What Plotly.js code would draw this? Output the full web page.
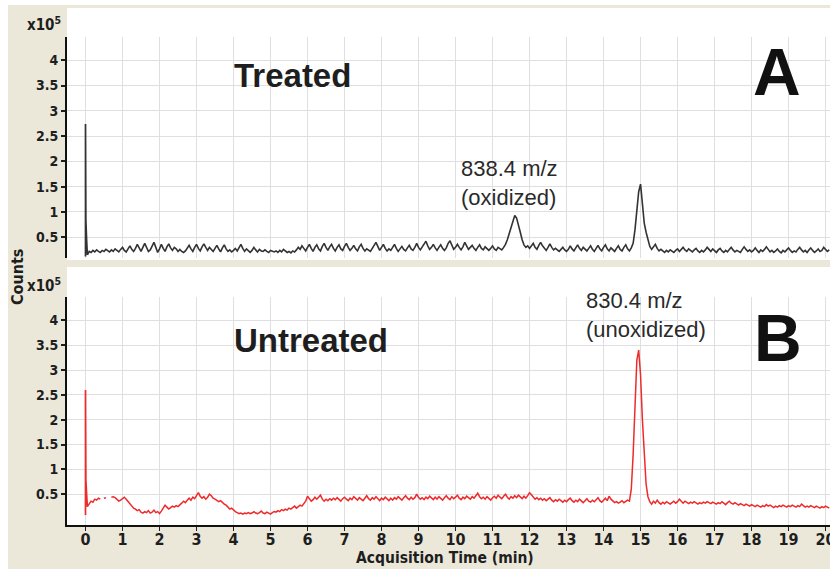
<!DOCTYPE html>
<html>
<head>
<meta charset="utf-8">
<script src="https://cdn.plot.ly/plotly-3.0.1.min.js"></script>
<style>html,body{margin:0;padding:0;background:#fff;}#chart{width:830px;height:569px;}</style>
</head>
<body>
<div id="chart"></div>
<script>
// Values in units of 10^5 counts; main traces sampled every 0.05 min starting at 0.05 min
const sampleStart = 0.05;
const sampleStep = 0.05;

const treatedSpikeTime = [0, 0, 0.01, 0.03, 0.05];
const treatedSpikeCounts = [0.12, 2.74, 0.83, 0.45, 0.15];

const untreatedSpikeTime = [0, 0, 0.01, 0.03, 0.05];
const untreatedSpikeCounts = [0.08, 2.60, 0.78, 0.50, 0.25];

const treatedCounts = [
  0.15,0.22,0.20,0.24,0.21,0.25,0.22,0.20,0.24,0.22,0.26,0.23,0.21,0.25,0.22,0.27,0.24,0.21,0.26,0.30,
  0.24,0.21,0.27,0.33,0.26,0.22,0.28,0.36,0.29,0.22,0.30,0.38,0.30,0.22,0.25,0.33,0.40,0.30,0.20,0.27,
  0.36,0.28,0.22,0.31,0.37,0.29,0.24,0.30,0.27,0.22,0.26,0.22,0.20,0.23,0.28,0.34,0.27,0.22,0.30,0.36,
  0.28,0.23,0.31,0.37,0.30,0.24,0.30,0.26,0.22,0.28,0.34,0.27,0.21,0.29,0.35,0.27,0.22,0.25,0.21,0.24,
  0.28,0.23,0.30,0.36,0.28,0.22,0.27,0.23,0.20,0.24,0.30,0.25,0.21,0.26,0.23,0.22,0.25,0.22,0.20,0.24,
  0.22,0.21,0.23,0.20,0.24,0.21,0.26,0.23,0.20,0.22,0.19,0.23,0.21,0.25,0.30,0.26,0.33,0.28,0.23,0.30,
  0.36,0.28,0.22,0.30,0.35,0.27,0.23,0.32,0.38,0.30,0.24,0.31,0.36,0.28,0.23,0.30,0.35,0.27,0.24,0.32,
  0.38,0.30,0.24,0.28,0.34,0.27,0.23,0.31,0.36,0.28,0.23,0.27,0.24,0.22,0.28,0.35,0.40,0.32,0.24,0.30,
  0.36,0.28,0.23,0.27,0.24,0.30,0.36,0.28,0.22,0.27,0.32,0.26,0.23,0.29,0.34,0.27,0.24,0.30,0.38,0.30,
  0.25,0.31,0.37,0.42,0.33,0.26,0.30,0.36,0.29,0.24,0.30,0.35,0.28,0.24,0.29,0.38,0.43,0.33,0.26,0.30,
  0.36,0.30,0.25,0.31,0.40,0.33,0.26,0.30,0.34,0.28,0.24,0.30,0.35,0.28,0.25,0.31,0.27,0.24,0.28,0.33,
  0.27,0.24,0.30,0.27,0.25,0.30,0.36,0.45,0.58,0.72,0.84,0.93,0.88,0.76,0.60,0.45,0.35,0.30,0.33,0.28,
  0.32,0.38,0.30,0.26,0.34,0.40,0.33,0.28,0.24,0.30,0.37,0.30,0.25,0.28,0.24,0.22,0.26,0.30,0.25,0.22,
  0.26,0.33,0.27,0.23,0.29,0.35,0.28,0.24,0.30,0.27,0.23,0.28,0.33,0.26,0.22,0.28,0.34,0.27,0.23,0.30,
  0.35,0.27,0.23,0.29,0.25,0.22,0.28,0.33,0.26,0.23,0.30,0.35,0.27,0.23,0.29,0.38,0.65,1.05,1.40,1.55,
  1.20,0.78,0.60,0.45,0.32,0.26,0.30,0.36,0.28,0.23,0.26,0.22,0.20,0.24,0.21,0.25,0.22,0.20,0.24,0.27,
  0.22,0.26,0.30,0.25,0.22,0.27,0.24,0.21,0.25,0.28,0.23,0.20,0.24,0.21,0.25,0.30,0.26,0.22,0.27,0.23,
  0.20,0.25,0.28,0.23,0.20,0.24,0.21,0.26,0.30,0.25,0.21,0.24,0.22,0.20,0.26,0.31,0.26,0.22,0.25,0.21,
  0.24,0.29,0.24,0.20,0.25,0.22,0.26,0.31,0.26,0.21,0.24,0.20,0.23,0.27,0.22,0.19,0.24,0.21,0.25,0.29,
  0.24,0.20,0.23,0.21,0.26,0.30,0.25,0.21,0.24,0.20,0.25,0.29,0.24,0.20,0.23,0.27,0.22,0.24,0.30,0.26,
  0.22,0.25
];

const untreatedCounts = [
  0.25,0.30,0.36,0.34,0.40,0.38,0.42,0.40,null,0.42,0.43,null,null,0.44,0.45,0.43,0.40,0.36,0.38,0.42,
  0.44,0.40,0.35,0.30,0.26,0.22,0.20,0.17,0.19,0.14,0.12,0.15,0.13,0.17,0.12,0.14,0.18,0.13,0.15,0.11,
  0.16,0.22,0.28,0.24,0.20,0.23,0.26,0.24,0.27,0.25,0.28,0.32,0.36,0.33,0.38,0.42,0.38,0.44,0.41,0.47,
  0.53,0.46,0.42,0.45,0.40,0.44,0.50,0.47,0.42,0.40,0.37,0.35,0.37,0.33,0.30,0.28,0.24,0.20,0.22,0.18,
  0.15,0.13,0.11,0.12,0.10,0.12,0.11,0.13,0.11,0.12,0.15,0.12,0.11,0.13,0.16,0.12,0.11,0.14,0.12,0.10,
  0.13,0.15,0.14,0.17,0.15,0.19,0.17,0.20,0.18,0.22,0.20,0.23,0.26,0.22,0.25,0.28,0.26,0.30,0.36,0.46,
  0.42,0.36,0.39,0.44,0.40,0.45,0.48,0.40,0.36,0.40,0.37,0.41,0.38,0.42,0.39,0.43,0.40,0.36,0.41,0.44,
  0.40,0.37,0.42,0.39,0.45,0.41,0.38,0.43,0.40,0.37,0.42,0.47,0.41,0.38,0.43,0.40,0.45,0.40,0.37,0.42,
  0.39,0.44,0.40,0.37,0.42,0.38,0.43,0.40,0.45,0.41,0.38,0.43,0.47,0.42,0.39,0.44,0.40,0.43,0.50,0.44,
  0.40,0.43,0.39,0.44,0.41,0.46,0.42,0.39,0.44,0.40,0.45,0.42,0.38,0.43,0.47,0.42,0.39,0.45,0.41,0.44,
  0.48,0.42,0.39,0.44,0.41,0.46,0.43,0.40,0.45,0.42,0.47,0.52,0.45,0.41,0.44,0.40,0.45,0.42,0.38,0.43,
  0.46,0.42,0.48,0.44,0.41,0.46,0.50,0.44,0.40,0.45,0.42,0.47,0.43,0.48,0.44,0.41,0.46,0.42,0.47,0.53,
  0.49,0.44,0.40,0.43,0.39,0.42,0.38,0.41,0.37,0.40,0.43,0.38,0.35,0.39,0.36,0.40,0.37,0.34,0.38,0.35,
  0.39,0.42,0.37,0.34,0.38,0.35,0.40,0.36,0.33,0.37,0.41,0.36,0.34,0.38,0.35,0.39,0.43,0.37,0.34,0.38,
  0.42,0.37,0.46,0.40,0.36,0.33,0.35,0.32,0.34,0.37,0.33,0.35,0.38,0.36,0.60,1.30,2.30,3.20,3.40,2.90,
  2.00,1.20,0.70,0.45,0.35,0.30,0.36,0.32,0.38,0.33,0.30,0.34,0.31,0.35,0.32,0.30,0.33,0.36,0.32,0.35,
  0.40,0.35,0.32,0.36,0.33,0.31,0.34,0.32,0.35,0.33,0.30,0.33,0.31,0.34,0.32,0.35,0.33,0.31,0.34,0.32,
  0.30,0.33,0.31,0.35,0.32,0.29,0.33,0.36,0.32,0.30,0.33,0.30,0.28,0.31,0.29,0.27,0.30,0.28,0.26,0.29,
  0.27,0.25,0.28,0.26,0.24,0.27,0.25,0.29,0.26,0.28,0.25,0.23,0.26,0.24,0.27,0.25,0.28,0.26,0.24,0.27,
  0.25,0.28,0.26,0.24,0.27,0.25,0.30,0.27,0.24,0.26,0.24,0.27,0.25,0.23,0.26,0.24,0.22,0.25,0.23,0.26,
  0.24,0.22
];

const xTickVals = [0,1,2,3,4,5,6,7,8,9,10,11,12,13,14,15,16,17,18,19,20];
const xTickText = ['0','1','2','3','4','5','6','7','8','9','10','11','12','13','14','15','16','17','18','19','20'];
const yTickVals = [0.5,1,1.5,2,2.5,3,3.5,4];
const yTickText = ['0.5','1','1.5','2','2.5','3','3.5','4'];

const W = 830, H = 569;
const px = x => x / W;
const py = y => 1 - y / H;
const bold = t => '<b>' + t + '</b>';

const cond = "'DejaVu Sans Condensed', 'Liberation Sans Narrow', 'Liberation Sans', sans-serif";
const sans = "'Liberation Sans', Arial, Helvetica, sans-serif";
const beige = '#ebe8d9';
const gridCol = '#dfdfe3';
const blackLine = '#333333';
const redLine = '#ee2a2a';
const ink = '#1e1e1e';

const traces = [
  {x: treatedSpikeTime, y: treatedSpikeCounts, xaxis: 'x', yaxis: 'y', mode: 'lines',
   line: {color: blackLine, width: 1.7}, hoverinfo: 'skip'},
  {x0: sampleStart, dx: sampleStep, y: treatedCounts, xaxis: 'x', yaxis: 'y', mode: 'lines',
   line: {color: blackLine, width: 1.6}},
  {x: untreatedSpikeTime, y: untreatedSpikeCounts, xaxis: 'x2', yaxis: 'y2', mode: 'lines',
   line: {color: redLine, width: 1.7}, hoverinfo: 'skip'},
  {x0: sampleStart, dx: sampleStep, y: untreatedCounts, xaxis: 'x2', yaxis: 'y2', mode: 'lines',
   connectgaps: false, line: {color: redLine, width: 1.5}}
];

const yTickFont = {family: cond, size: 14, color: ink};
const xDomain = [px(67), 1];

const yCommon = {
  tickmode: 'array', tickvals: yTickVals, ticktext: yTickText.map(bold),
  ticks: 'outside', ticklen: 4, tickwidth: 2, tickcolor: ink, tickfont: yTickFont,
  showgrid: true, gridcolor: gridCol, gridwidth: 1, zeroline: false,
  showline: true, linecolor: '#111', linewidth: 2
};

const layout = {
  width: W, height: H,
  margin: {l: 0, r: 0, t: 0, b: 0},
  paper_bgcolor: '#ffffff',
  plot_bgcolor: 'rgba(0,0,0,0)',
  showlegend: false,
  xaxis: {domain: xDomain, anchor: 'y', range: [-0.5, 20.12], tickmode: 'array', tickvals: xTickVals,
          showticklabels: false, ticks: '', showgrid: true, gridcolor: gridCol, gridwidth: 1,
          zeroline: false, showline: false},
  yaxis: Object.assign({domain: [py(258), py(37)], anchor: 'x', range: [0.09, 4.46]}, yCommon),
  xaxis2: {domain: xDomain, anchor: 'y2', range: [-0.5, 20.12], tickmode: 'array', tickvals: xTickVals,
           ticktext: xTickText.map(bold), ticks: 'outside', ticklen: 4, tickwidth: 1.5, tickcolor: ink,
           tickfont: {family: cond, size: 16, color: ink}, ticklabeloverflow: 'allow',
           ticklabelstandoff: -5,
           showgrid: true, gridcolor: gridCol, gridwidth: 1, zeroline: false,
           showline: true, linecolor: '#111', linewidth: 2},
  yaxis2: Object.assign({domain: [py(525), py(297)], anchor: 'x2', range: [-0.12, 4.47]}, yCommon),
  shapes: [
    {type: 'rect', xref: 'paper', yref: 'paper', x0: px(8), x1: 1, y0: 0, y1: py(5),
     fillcolor: beige, line: {width: 0}, layer: 'below'},
    {type: 'rect', xref: 'paper', yref: 'paper', x0: px(67), x1: 1, y0: py(260), y1: py(8),
     fillcolor: '#ffffff', line: {width: 0}, layer: 'below'},
    {type: 'rect', xref: 'paper', yref: 'paper', x0: px(67), x1: 1, y0: py(525), y1: py(267),
     fillcolor: '#ffffff', line: {width: 0}, layer: 'below'}
  ],
  annotations: [
    {xref: 'paper', yref: 'paper', x: px(232), y: py(75), xanchor: 'left', yanchor: 'middle',
     text: bold('Treated'), showarrow: false, font: {family: sans, size: 33, color: ink}},
    {xref: 'paper', yref: 'paper', x: px(232), y: py(340), xanchor: 'left', yanchor: 'middle',
     text: bold('Untreated'), showarrow: false, font: {family: sans, size: 33, color: ink}},
    {xref: 'paper', yref: 'paper', x: px(777), y: py(72), xanchor: 'center', yanchor: 'middle',
     text: bold('A'), showarrow: false, font: {family: sans, size: 66, color: '#111'}},
    {xref: 'paper', yref: 'paper', x: px(778), y: py(338), xanchor: 'center', yanchor: 'middle',
     text: bold('B'), showarrow: false, font: {family: sans, size: 66, color: '#111'}},
    {xref: 'paper', yref: 'paper', x: px(459), y: py(183), xanchor: 'left', yanchor: 'middle', align: 'left',
     text: '838.4 m/z<br>(oxidized)', showarrow: false, font: {family: sans, size: 22, color: '#2a2a2a'}},
    {xref: 'paper', yref: 'paper', x: px(584), y: py(315), xanchor: 'left', yanchor: 'middle', align: 'left',
     text: '830.4 m/z<br>(unoxidized)', showarrow: false, font: {family: sans, size: 22, color: '#2a2a2a'}},
    {xref: 'paper', yref: 'paper', x: px(63), y: py(24), xanchor: 'right', yanchor: 'middle',
     text: bold('x10<sup>5</sup>'), showarrow: false, font: {family: cond, size: 15, color: ink}},
    {xref: 'paper', yref: 'paper', x: px(63), y: py(285), xanchor: 'right', yanchor: 'middle',
     text: bold('x10<sup>5</sup>'), showarrow: false, font: {family: cond, size: 15, color: ink}},
    {xref: 'paper', yref: 'paper', x: px(18), y: py(277), xanchor: 'center', yanchor: 'middle', textangle: -90,
     text: bold('Counts'), showarrow: false, font: {family: cond, size: 16, color: ink}},
    {xref: 'paper', yref: 'paper', x: px(445), y: py(558), xanchor: 'center', yanchor: 'middle',
     text: bold('Acquisition Time (min)'), showarrow: false, font: {family: cond, size: 15.5, color: ink}}
  ]
};

Plotly.newPlot('chart', traces, layout, {staticPlot: true, displayModeBar: false});
</script>
</body>
</html>
